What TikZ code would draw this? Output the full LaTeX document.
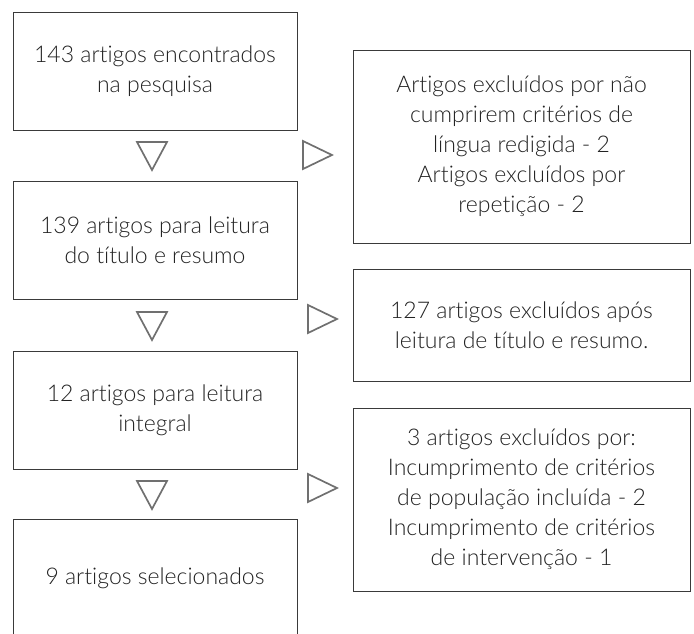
\documentclass[tikz,border=0pt]{standalone}
\usepackage{fontspec}
\setmainfont{Lato Light}[Ligatures={NoCommon,NoRare},Contextuals=NoAlternate]
\usetikzlibrary{positioning}
\definecolor{boxgray}{HTML}{3A3A3A}
\definecolor{textgray}{HTML}{222222}
\definecolor{markgray}{HTML}{707070}
\begin{document}
\begin{tikzpicture}
  [x=1pt,y=-1pt,every node/.style={draw=boxgray,line width=0.9pt,align=center,text=textgray,inner sep=0pt,font=\fontsize{23}{30}\selectfont}]
  \tikzstyle{stage} = [minimum width=284pt,minimum height=118pt]
  \tikzstyle{excl} = [minimum width=337pt]
  \tikzstyle{marker} = [draw=markgray,line width=1.7pt,line join=miter]
  \useasboundingbox (0,0) rectangle (694,633);
  \node[stage] (s1) at (155,71)  {143 artigos encontrados\\na pesquisa};
  \node[stage] (s2) at (155,240) {139 artigos para leitura\\do título e resumo};
  \node[stage] (s3) at (155,410) {12 artigos para leitura\\integral};
  \node[stage] (s4) at (155,578) {9 artigos selecionados};
  \node[excl,minimum height=193pt] (e1) at (521.5,146.5) {Artigos excluídos por não\\cumprirem critérios de\\língua redigida - 2\\Artigos excluídos por\\repetição - 2};
  \node[excl,minimum height=112pt] (e2) at (521.5,325) {127 artigos excluídos após\\leitura de título e resumo.};
  \node[excl,minimum height=183pt] (e3) at (521.5,499.5) {3 artigos excluídos por:\\Incumprimento de critérios\\de população incluída - 2\\Incumprimento de critérios\\de intervenção - 1};
  \foreach \y in {142,312,481}
   \draw[marker] (137,\y) -- (167,\y) -- (152,\y+28) -- cycle;
  \foreach \x /\y in {303/141,308/305,308/474}
   \draw[marker] (\x,\y) -- (\x+29,\y+14) -- (\x,\y+28) -- cycle;
\end{tikzpicture}
\end{document}
